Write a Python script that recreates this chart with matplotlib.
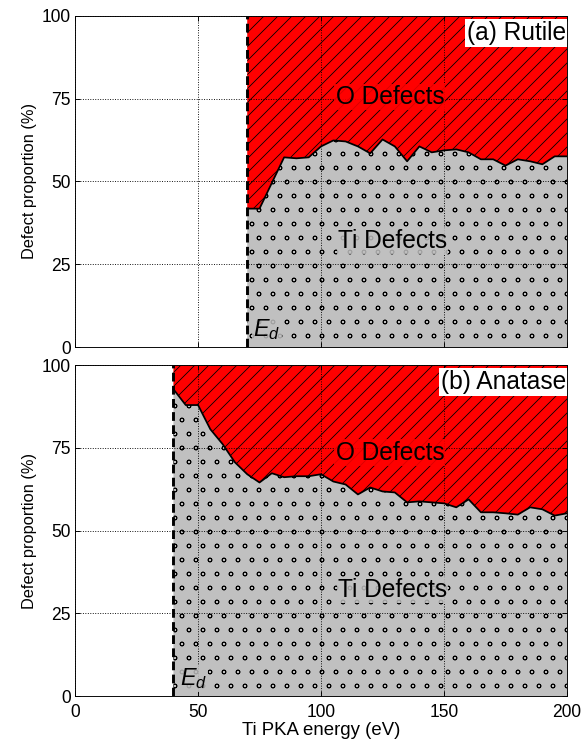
import matplotlib
matplotlib.use('Agg')
import matplotlib.pyplot as plt
import matplotlib.hatch as mhatch

plt.rcParams['font.family'] = ['Liberation Sans', 'DejaVu Sans']
plt.rcParams['mathtext.fontset'] = 'custom'
plt.rcParams['mathtext.it'] = 'Liberation Sans:italic'
plt.rcParams['mathtext.rm'] = 'Liberation Sans'
plt.rcParams['hatch.linewidth'] = 0.7
mhatch.SmallCircles.size = 0.14  # 小圆点更小一些

# 数据：Ti 缺陷比例 (%)，其余为 O 缺陷
rutile_ed = 70
rutile_energy = [70, 75, 85, 90, 95, 100, 105, 110, 115, 120, 125, 130, 135, 140,
                 145, 150, 155, 160, 165, 170, 175, 180, 185, 190, 195, 200]
rutile_ti = [41.8, 41.8, 57.3, 57.0, 57.3, 60.6, 62.4, 62.1, 60.6, 58.5, 62.7, 60.6, 56.1, 60.6,
             58.8, 59.4, 59.7, 58.8, 56.7, 56.7, 54.8, 56.7, 56.1, 55.2, 57.6, 57.6]

anatase_ed = 40
anatase_energy = [40, 45, 50, 55, 60, 65, 70, 75, 80, 85, 90, 95, 100, 105, 110, 115, 120,
                  125, 130, 135, 140, 145, 150, 155, 160, 165, 170, 175, 180, 185, 190, 195, 200]
anatase_ti = [92.7, 87.9, 87.9, 80.6, 76.1, 70.6, 67.0, 64.5, 67.3, 66.1, 66.4, 66.4, 67.0, 64.8,
              63.9, 60.9, 63.0, 61.8, 61.5, 58.5, 58.8, 58.5, 58.2, 57.0, 59.4, 55.5, 55.5, 55.2,
              54.8, 57.0, 56.4, 54.5, 55.2]

panels = [('(a) Rutile', rutile_ed, rutile_energy, rutile_ti, 75.5, 32),
          ('(b) Anatase', anatase_ed, anatase_energy, anatase_ti, 73.5, 32)]

grey = '#c0c0c0'
red = '#ff0000'

dpi = 84
fig = plt.figure(figsize=(588 / dpi, 744 / dpi), dpi=dpi)
axes = [fig.add_axes([0.1276, 0.5336, 0.8367, 0.4449]),
        fig.add_axes([0.1276, 0.0645, 0.8367, 0.4449])]

for ax, (name, ed, x, ti, o_y, ti_y) in zip(axes, panels):
    # 灰色 Ti 区域 + 红色 O 区域
    ax.fill_between(x, 0, ti, facecolor=grey, edgecolor='k', linewidth=0,
                    hatch='o', zorder=1)
    ax.fill_between(x, ti, 100, facecolor=red, edgecolor='k', linewidth=0,
                    hatch='//', zorder=1)
    ax.plot(x, ti, color='k', linewidth=1.5, zorder=3)
    ax.axvline(ed, color='k', linestyle=(0, (3, 1.5)), linewidth=2.5, zorder=3)

    ax.text(128, o_y, 'O Defects', fontsize=21, ha='center', va='center', zorder=4,
            bbox=dict(facecolor=red, edgecolor='none', alpha=0.85, pad=1))
    ax.text(129, ti_y, 'Ti Defects', fontsize=21, ha='center', va='center', zorder=4,
            bbox=dict(facecolor=grey, edgecolor='none', alpha=0.85, pad=1))
    ax.text(ed + 2.5, 1.5, '$E_d$', fontsize=20, ha='left', va='bottom', zorder=4,
            bbox=dict(facecolor=grey, edgecolor='none', alpha=0.85, pad=1))
    ax.text(199.5, 98.5, name, fontsize=21, ha='right', va='top', zorder=5,
            bbox=dict(facecolor='white', edgecolor='none', pad=1.5))

    ax.set_xlim(0, 200)
    ax.set_ylim(0, 100)
    ax.set_xticks([0, 50, 100, 150, 200])
    ax.set_yticks([0, 25, 50, 75, 100])
    ax.set_axisbelow(False)
    ax.grid(True, linestyle=':', color='k', linewidth=0.8)
    ax.tick_params(direction='in', length=4, top=True, right=True, labelsize=15)
    ax.tick_params(axis='x', pad=7)
    ax.set_ylabel('Defect proportion (%)', fontsize=14)

axes[0].set_xticklabels([])
axes[1].set_xlabel('Ti PKA energy (eV)', fontsize=16, labelpad=1)

fig.savefig('out.png', dpi=dpi)
